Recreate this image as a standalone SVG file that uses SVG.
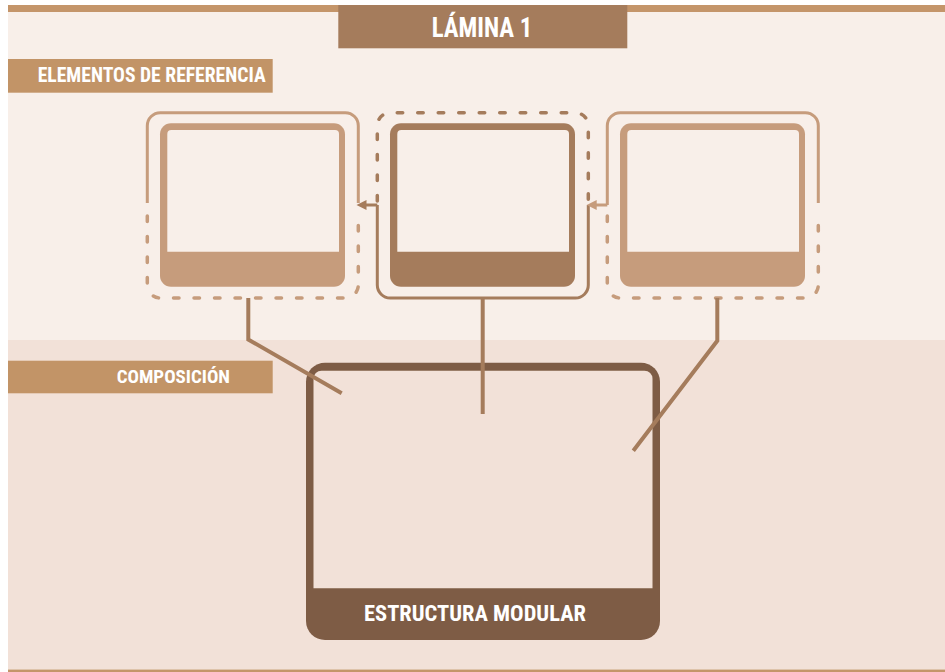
<svg xmlns="http://www.w3.org/2000/svg" width="945" height="672" viewBox="0 0 945 672">
<style>
.hdr{fill:#c29467}
.t{font-family:"Liberation Sans Narrow","Roboto Condensed","DejaVu Sans Condensed","Liberation Sans",Arial,sans-serif;font-weight:bold;fill:#ffffff}
.solidL{fill:none;stroke:#c69c7c;stroke-width:3}
.dashL{fill:none;stroke:#c69c7c;stroke-width:3.5;stroke-linecap:round;stroke-dasharray:5.5 15}
.solidD{fill:none;stroke:#a57c5c;stroke-width:3}
.dashD{fill:none;stroke:#a57c5c;stroke-width:3.5;stroke-linecap:round;stroke-dasharray:5.5 15}
.conn{fill:none;stroke:#a57c5c;stroke-width:4}
</style>
<rect x="0" y="0" width="945" height="672" fill="#ffffff"/>
<rect x="8" y="12" width="937" height="328" fill="#f8efe9"/>
<rect x="8" y="340" width="937" height="329.5" fill="#f2e1d8"/>
<rect x="8" y="5" width="937" height="7" fill="#c4956a"/>
<rect x="8" y="669.5" width="937" height="2.5" fill="#c4956a"/>

<g id="title">
<rect x="338.3" y="5" width="289" height="43.3" fill="#a57c5c"/>
<text class="t" x="431.7" y="37.3" font-size="27.5" textLength="100.6" lengthAdjust="spacingAndGlyphs">LÁMINA 1</text>
</g>
<g id="label-elementos">
<rect class="hdr" x="8" y="59" width="264.7" height="33.7"/>
<text class="t" x="37.7" y="81.7" font-size="19.5" textLength="228" lengthAdjust="spacingAndGlyphs">ELEMENTOS DE REFERENCIA</text>
</g>
<g id="label-composicion">
<rect class="hdr" x="8" y="360.7" width="264.7" height="32.6"/>
<text class="t" x="116.7" y="382.7" font-size="19" textLength="113.3" lengthAdjust="spacingAndGlyphs">COMPOSICIÓN</text>
</g>

<g id="card-left">
<path class="solidL" d="M147.3,203 V125.7 A13,13 0 0 1 160.3,112.7 H345.3 A13,13 0 0 1 358.3,125.7 V203"/>
<path class="dashL" d="M147.3,216 V285 A13,13 0 0 0 160.3,298 H345.3 A13,13 0 0 0 358.3,285 V216"/>
<rect x="160" y="123.3" width="185" height="163.4" rx="11" fill="#c69c7c"/>
<path d="M167.3,251.7 V134 A4,4 0 0 1 171.3,130 H335 A4,4 0 0 1 339,134 V251.7 Z" fill="#f8efe9"/>
</g>

<g id="card-center">
<path class="dashD" d="M377.3,201 V125.7 A13,13 0 0 1 390.3,112.7 H575.3 A13,13 0 0 1 588.3,125.7 V201"/>
<path class="solidD" d="M377.3,205 V285 A13,13 0 0 0 390.3,298 H575.3 A13,13 0 0 0 588.3,285 V205"/>
<rect x="390" y="123.3" width="185" height="163.4" rx="11" fill="#a57c5c"/>
<path d="M397.3,251.7 V134 A4,4 0 0 1 401.3,130 H565 A4,4 0 0 1 569,134 V251.7 Z" fill="#f8efe9"/>
</g>

<g id="card-right">
<path class="solidL" d="M607.3,205 V125.7 A13,13 0 0 1 620.3,112.7 H805.3 A13,13 0 0 1 818.3,125.7 V203"/>
<path class="dashL" d="M607.3,216 V285 A13,13 0 0 0 620.3,298 H805.3 A13,13 0 0 0 818.3,285 V216"/>
<rect x="620" y="123.3" width="185" height="163.4" rx="11" fill="#c69c7c"/>
<path d="M627.3,251.7 V134 A4,4 0 0 1 631.3,130 H795 A4,4 0 0 1 799,134 V251.7 Z" fill="#f8efe9"/>
</g>

<g id="estructura-modular">
<rect x="306" y="362.7" width="354" height="277.3" rx="19" fill="#7e5c45"/>
<path d="M313.5,588.3 V378.7 A8,8 0 0 1 321.5,370.7 H644.5 A8,8 0 0 1 652.5,378.7 V588.3 Z" fill="#f2e1d8"/>
<text class="t" x="364" y="621" font-size="22.5" textLength="222" lengthAdjust="spacingAndGlyphs">ESTRUCTURA MODULAR</text>
</g>

<g id="connectors">
<path class="solidD" d="M377.3,205 H364"/>
<polygon points="356.5,205 366.5,200 366.5,210" fill="#a57c5c"/>
<path class="solidL" d="M607.3,205 H594"/>
<polygon points="586.7,205 596.7,200 596.7,210" fill="#c69c7c"/>
<path class="conn" d="M248.3,298 V339.5 L341.7,393.3"/>
<path class="conn" d="M482.7,298 V414"/>
<path class="conn" d="M717.3,298 V340.7 L633.3,450.7"/>
</g>
</svg>
